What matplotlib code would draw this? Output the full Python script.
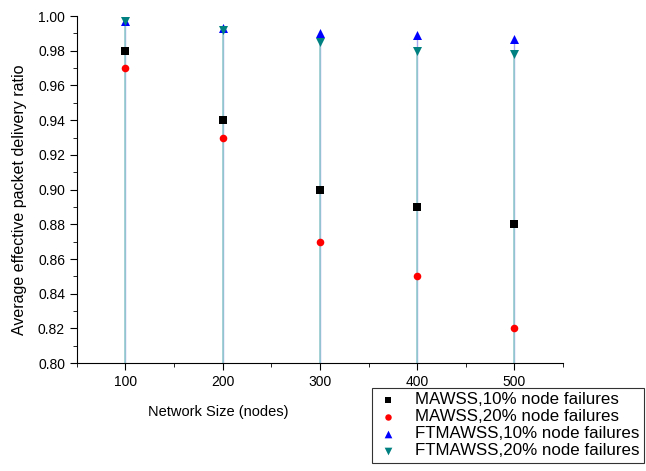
import matplotlib
matplotlib.use("Agg")
import matplotlib.pyplot as plt
from matplotlib.ticker import MultipleLocator, FormatStrFormatter

plt.rcParams['font.family'] = ['Liberation Sans', 'DejaVu Sans']

sizes = [100, 200, 300, 400, 500]
mawss_10 = [0.98, 0.94, 0.90, 0.89, 0.88]
mawss_20 = [0.97, 0.93, 0.87, 0.85, 0.82]
ftmawss_10 = [0.997, 0.993, 0.990, 0.989, 0.987]
ftmawss_20 = [0.997, 0.992, 0.985, 0.980, 0.978]

labels = ["MAWSS,10% node failures", "MAWSS,20% node failures",
          "FTMAWSS,10% node failures", "FTMAWSS,20% node failures"]
series = [mawss_10, mawss_20, ftmawss_10, ftmawss_20]
colors = ["black", "red", "blue", "#008080"]
markers = ["s", "o", "^", "v"]
msizes = [26, 30, 42, 42]

fig = plt.figure(figsize=(6.46, 4.71), dpi=100)
ax = fig.add_axes([0.119, 0.229, 0.7525, 0.737])

# drop lines: blue part for the top series, teal below it
ax.vlines(sizes, 0.80, ftmawss_10, colors="#a8a8f0", linewidth=1.0, zorder=1)
ax.vlines(sizes, 0.80, ftmawss_20, colors="#8fcaca", linewidth=1.1, zorder=1.5)

handles = []
for vals, c, m, ms, lab in zip(series, colors, markers, msizes, labels):
    h = ax.scatter(sizes, vals, color=c, marker=m, s=ms, label=lab, zorder=3,
                   linewidths=0)
    handles.append(h)

ax.set_xlim(50, 550)
ax.set_ylim(0.80, 1.00)
ax.xaxis.set_major_locator(MultipleLocator(100))
ax.xaxis.set_minor_locator(MultipleLocator(50))
ax.yaxis.set_major_locator(MultipleLocator(0.02))
ax.yaxis.set_minor_locator(MultipleLocator(0.01))
ax.yaxis.set_major_formatter(FormatStrFormatter('%.2f'))

ax.spines['top'].set_visible(False)
ax.spines['right'].set_visible(False)
ax.tick_params(which='major', direction='out', length=5, labelsize=10)
ax.tick_params(which='minor', direction='out', length=3)

ax.set_xlabel("Network Size (nodes)", fontsize=10.5)
ax.xaxis.set_label_coords(0.29, -0.121)
ax.set_ylabel("Average effective packet delivery ratio", fontsize=11.5)
ax.yaxis.set_label_coords(-0.103, 0.47)

leg = fig.legend(handles=handles, labels=labels, loc='upper left',
                 bbox_to_anchor=(372 / 646, 1 - 388 / 471), fontsize=12.2,
                 frameon=True, fancybox=False, edgecolor='black',
                 handletextpad=0.9, borderpad=0.25, labelspacing=0.12,
                 handlelength=1.4, borderaxespad=0, markerscale=0.85)
leg.get_frame().set_linewidth(0.8)

fig.savefig("out.png", dpi=100)
